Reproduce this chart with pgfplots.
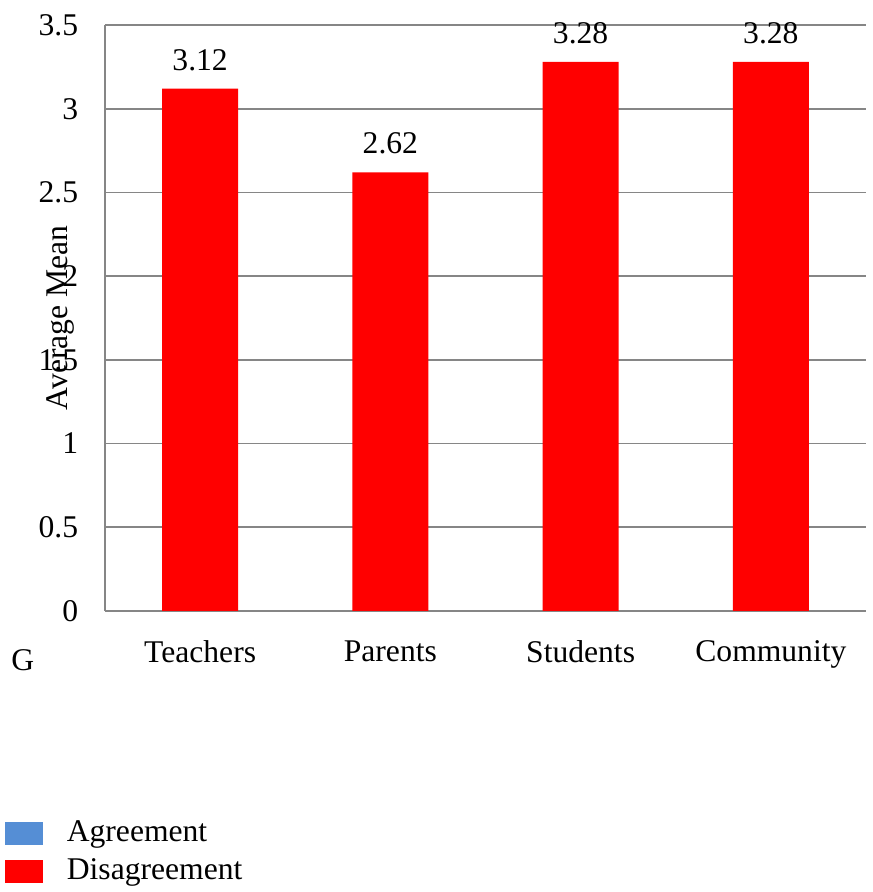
\documentclass[border=0pt]{standalone}
\usepackage{pgfplots}
\pgfplotsset{compat=1.18}
\usepackage{fontspec}
\setmainfont{Liberation Serif}
\definecolor{gridgray}{RGB}{134,134,134}
\definecolor{agreeblue}{RGB}{85,142,213}
\definecolor{disred}{RGB}{255,0,0}
\newcommand{\chartfont}{\fontsize{15.8}{18.8}\selectfont}
\begin{document}
\begin{tikzpicture}
\chartfont
\useasboundingbox (0,0) rectangle (436pt,446pt);
\begin{axis}[
  at={(52.5pt,140.5pt)}, anchor=south west,
  scale only axis,
  width=380.5pt, height=293pt,
  xmin=-0.5, xmax=3.5,
  ymin=0, ymax=3.5,
  ytick={0,0.5,1,1.5,2,2.5,3,3.5},
  xtick=data,
  xticklabels={Teachers,Parents,Students,Community},
  major tick length=0pt,
  axis x line*=bottom, axis y line*=left,
  axis line style={gridgray, line width=0.9pt},
  ymajorgrids, grid style={gridgray, line width=0.8pt},
  /pgf/number format/assume math mode=true,
  tick label style={font=\chartfont},
  yticklabel style={xshift=-8pt},
  xticklabel style={yshift=-9.5pt},
  ylabel={Average Mean},
  ylabel style={at={(axis description cs:-0.059,0.5)}, anchor=center, font=\chartfont},
  clip=false,
  legend style={at={(axis description cs:-0.14,-0.343)}, anchor=north west,
    draw=none, fill=none, font=\chartfont,
    row sep=2.2pt, nodes={inner xsep=12pt}},
  legend cell align=left,
  legend image code/.code={\fill[#1] (-5.5pt,-5.8pt) rectangle (13.5pt,5.8pt);},
]
\addlegendimage{fill=agreeblue, draw=none}
\addlegendentry{Agreement}
\addplot[ybar, bar width=38pt, fill=disred, draw=none,
  nodes near coords,
  nodes near coords style={font=\chartfont, color=black, yshift=3.5pt},
  /pgf/number format/.cd, fixed, precision=2, fixed zerofill]
  coordinates {(0,3.12) (1,2.62) (2,3.28) (3,3.28)};
\addlegendentry{Disagreement}
\node at (axis description cs:-0.108,-0.0836) {G};
\end{axis}
\end{tikzpicture}
\end{document}
